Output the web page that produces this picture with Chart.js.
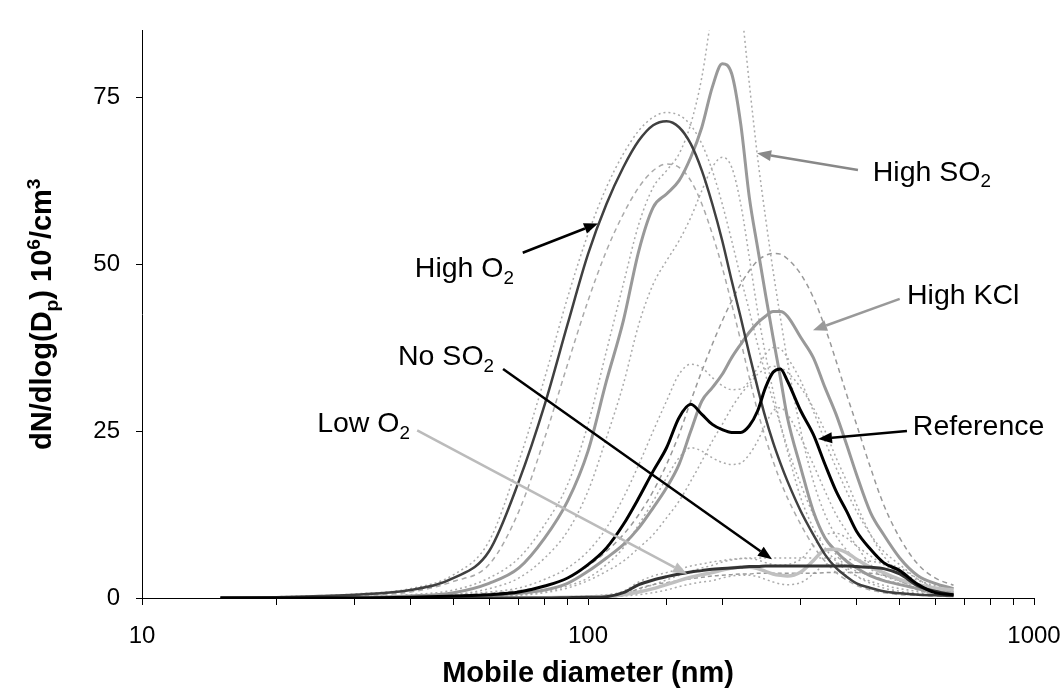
<!DOCTYPE html>
<html>
<head>
<meta charset="utf-8">
<script src="https://cdn.jsdelivr.net/npm/chart.js@4.4.1/dist/chart.umd.min.js"></script>
<style>
  html, body { margin: 0; padding: 0; background: #fff; }
</style>
</head>
<body>
<canvas id="chart" width="1064" height="697"></canvas>
<script>
// mobile diameter (nm)
const diam = [15, 20, 25, 30, 40, 50, 60, 70, 80, 90, 100, 110, 120, 130, 140, 150, 160, 170, 180, 190, 200,
  210, 220, 230, 240, 250, 260, 270, 280, 300, 320, 340, 360, 380, 400, 430, 460, 500, 550, 600, 660];

// mean size distributions, dN/dlog(Dp) 10^6/cm3
const highO2 = [0, 0.1, 0.3, 0.5, 1.2, 3.0, 7.0, 17.5, 29, 41, 51.5, 59, 64.5, 68.5, 70.8, 71.4, 70.5, 68, 64, 59, 53.5,
  47.5, 42, 36.5, 31.5, 27, 23.3, 20.2, 17.5, 13, 9.5, 6.5, 4.5, 3.2, 2.2, 1.5, 1.0, 0.7, 0.5, 0.4, 0.3];
const highSO2 = [0, 0, 0.05, 0.1, 0.3, 0.8, 2.2, 4.5, 9, 14.5, 22, 32.5, 41.5, 52, 58.5, 60.5, 62.5, 66, 70.5, 76.5, 80,
  78.5, 71, 60, 52.5, 45.5, 39, 33, 27, 19.5, 13, 9, 7, 5.5, 4.5, 3.3, 2.6, 2.0, 1.4, 1.0, 0.6];
const highKCl = [0, 0, 0, 0, 0.1, 0.2, 0.4, 0.7, 1.2, 2.2, 4.0, 6.0, 8.0, 10.5, 13.5, 16.5, 20, 25, 29.5, 31.5, 33.5,
  36, 38, 39.8, 41.2, 42.2, 42.9, 42.9, 42.2, 39, 36, 31.5, 27.5, 23, 18.5, 12.8, 9.5, 6, 3.3, 2.2, 1.4];
const reference = [0, 0, 0, 0, 0.1, 0.3, 0.5, 0.9, 1.8, 3.0, 5.0, 7.5, 11, 15, 19, 22.5, 27, 29, 27.5, 26, 25.2,
  24.8, 24.8, 25.8, 28, 31.5, 33.8, 34.3, 32.5, 28, 24.5, 20, 16, 13, 10, 7.3, 5.3, 4.1, 2.0, 0.8, 0.5];
const noSO2 = [0, 0, 0, 0, 0, 0, 0, 0, 0, 0.05, 0.1, 0.2, 0.8, 2.0, 2.7, 3.2, 3.6, 3.9, 4.1, 4.3, 4.4,
  4.5, 4.6, 4.7, 4.7, 4.8, 4.8, 4.8, 4.8, 4.8, 4.8, 4.8, 4.8, 4.8, 4.7, 4.6, 4.4, 3.6, 1.8, 1.0, 0.4];
const lowO2 = [0, 0, 0, 0, 0, 0, 0, 0, 0.05, 0.1, 0.15, 0.25, 0.5, 0.9, 1.4, 2.0, 2.6, 3.1, 3.5, 3.8, 4.2,
  4.5, 4.6, 4.6, 4.4, 4.0, 3.6, 3.4, 3.3, 3.9, 5.6, 7.2, 7.3, 6.8, 5.8, 4.6, 3.8, 2.8, 2.0, 1.5, 1.2];

// spread of the measurements (upper / lower)
const highO2Hi = [0.1, 0.2, 0.35, 0.6, 1.4, 3.5, 8.5, 20.5, 33, 45, 54.5, 61.5, 66.5, 70, 72, 72.7, 72.3, 70.8, 68, 64, 59,
  53.5, 48, 43, 38, 33.5, 29.5, 26, 22.5, 17, 12.5, 9, 6.5, 4.6, 3.3, 2.2, 1.5, 1.0, 0.7, 0.5, 0.4];
const highO2Lo = [0, 0.05, 0.2, 0.35, 0.9, 2.5, 5, 13, 24, 35, 44.5, 52, 57.5, 61.5, 64, 65, 64.5, 62.5, 59, 54.5, 49.5,
  44, 38.5, 33, 28, 24, 20.5, 17.5, 15, 11, 7.8, 5.5, 3.8, 2.7, 1.9, 1.2, 0.8, 0.5, 0.4, 0.3, 0.2];
const highSO2Hi = [0, 0, 0.1, 0.2, 0.5, 1.2, 3, 6, 11, 17, 26, 37, 47, 56, 61.5, 64, 66.5, 71, 78, 88, 96,
  96, 89, 77, 66, 57, 49, 42, 35.5, 25, 17.5, 12.5, 9.3, 7.2, 5.8, 4.3, 3.3, 2.5, 1.8, 1.3, 0.9];
const highSO2Lo = [0, 0, 0, 0.05, 0.2, 0.5, 1.4, 3, 6, 10, 16, 24, 32, 41, 47, 50.5, 53.5, 57, 61, 64.5, 66,
  64.5, 59, 51, 43, 36.5, 31, 26, 22, 15, 10.5, 7.5, 5.5, 4.2, 3.3, 2.5, 1.9, 1.4, 1.0, 0.7, 0.5];
const highKClHi = [0, 0, 0, 0.05, 0.2, 0.4, 0.7, 1.1, 1.8, 3.0, 4.8, 7, 9.5, 12.5, 16, 20, 24.5, 29.5, 34, 38, 41.5,
  44.5, 47, 49, 50.5, 51.3, 51.6, 51.5, 50.8, 48.5, 45, 40.5, 35.5, 30.5, 26, 19.5, 14, 9, 5, 3, 1.9];
const highKClLo = [0, 0, 0, 0, 0.05, 0.1, 0.2, 0.4, 0.8, 1.5, 2.6, 4, 5.5, 7.5, 9.5, 12, 14.5, 17.5, 20.5, 23.5, 26,
  28.5, 30.5, 32, 33.5, 34.3, 34.7, 34.5, 33.8, 31.5, 28.5, 25, 21, 17.5, 14, 9.5, 6.3, 3.8, 2.1, 1.4, 1.0];
const refHi = [0, 0, 0, 0.05, 0.2, 0.5, 0.9, 1.5, 2.8, 4.5, 7, 10.5, 15, 20, 25, 29.5, 33.5, 35, 34.5, 33, 31.8,
  31.2, 31.3, 32.5, 34.5, 36.5, 37.5, 37.3, 36, 32.5, 28, 23.5, 19.5, 16, 13, 9.5, 7, 5, 2.8, 1.5, 0.9];
const refLo = [0, 0, 0, 0, 0.05, 0.15, 0.3, 0.5, 1.0, 1.8, 3.0, 5, 7.5, 11, 14.5, 18, 21, 22.5, 22, 21, 20.3,
  20, 20.2, 21.5, 23.5, 26, 28, 28.5, 27.5, 24, 20, 16, 12.5, 10, 7.8, 5, 3.5, 2.6, 1.3, 0.6, 0.4];
const noSO2Hi = [0, 0, 0, 0, 0, 0, 0, 0, 0, 0.1, 0.2, 0.4, 1.0, 2.4, 3.3, 3.8, 4.3, 4.8, 5.1, 5.4, 5.6,
  5.8, 5.9, 6.0, 6.0, 6.0, 6.0, 6.0, 6.0, 6.0, 6.0, 6.0, 5.9, 5.8, 5.7, 5.5, 5.2, 4.5, 2.8, 1.6, 1.0];
const noSO2Lo = [0, 0, 0, 0, 0, 0, 0, 0, 0, 0, 0.05, 0.1, 0.4, 1.4, 2.0, 2.3, 2.6, 2.9, 3.1, 3.3, 3.4,
  3.5, 3.6, 3.6, 3.7, 3.7, 3.7, 3.7, 3.7, 3.7, 3.7, 3.8, 3.8, 3.8, 3.8, 3.7, 3.4, 2.6, 1.2, 0.6, 0.3];
const lowO2Hi = [0, 0, 0, 0, 0, 0, 0, 0, 0.1, 0.2, 0.3, 0.5, 0.8, 1.3, 2.0, 2.7, 3.4, 4.0, 4.5, 4.9, 5.4,
  5.7, 5.9, 5.9, 5.7, 5.3, 5.0, 4.9, 5.0, 5.8, 7.8, 9.5, 9.7, 9.0, 7.8, 6.3, 5.0, 3.9, 2.6, 1.9, 1.5];
const lowO2Lo = [0, 0, 0, 0, 0, 0, 0, 0, 0, 0.05, 0.1, 0.15, 0.3, 0.5, 0.8, 1.2, 1.7, 2.1, 2.4, 2.6, 3.0,
  3.3, 3.4, 3.4, 3.2, 2.8, 2.4, 2.1, 2.0, 2.3, 3.6, 5.0, 5.2, 4.8, 4.0, 3.4, 2.7, 2.2, 1.5, 1.1, 0.9];

const xTickLabels = [10, 100, 1000];
const yTickValues = [0, 25, 50, 75];

// callouts: text anchor and arrow tail/tip in data units (nm, 10^6/cm3)
const callouts = [
  { parts: [['High O', 0], ['2', 1]], at: [40.9, 48.0], from: [71.4, 51.7], to: [105.3, 56.1], color: '#000' },
  { parts: [['High SO', 0], ['2', 1]], at: [435, 62.5], from: [403, 64.1], to: [239.4, 66.6], color: '#888' },
  { parts: [['High KCl', 0]], at: [519, 44.0], from: [500, 44.8], to: [319.5, 40.1], color: '#999' },
  { parts: [['Reference', 0]], at: [535, 24.4], from: [519, 25.0], to: [327.9, 23.8], color: '#000' },
  { parts: [['No SO', 0], ['2', 1]], at: [37.5, 34.9], from: [64.5, 34.3], to: [258.5, 5.8], color: '#000' },
  { parts: [['Low O', 0], ['2', 1]], at: [24.7, 24.85], from: [41.4, 25.1], to: [166.7, 3.6], color: '#bbb' }
];

const FONT = '"Liberation Sans", Arial, Helvetica, sans-serif';

function series(values, color, width, dash, order) {
  return {
    data: diam.map((d, i) => ({ x: d, y: values[i] })),
    showLine: true,
    borderColor: color,
    borderWidth: width,
    borderDash: dash || [],
    pointRadius: 0,
    cubicInterpolationMode: 'monotone',
    fill: false,
    order: order
  };
}

const datasets = [
  series(reference, '#000000', 3, null, 0),
  series(noSO2, '#333333', 3, null, 0),
  series(highO2, '#404040', 2.5, null, 0),
  series(lowO2, '#c0c0c0', 3.5, null, 0),
  series(highKCl, '#999999', 3, null, 0),
  series(highSO2, '#999999', 3, null, 0),
  series(highO2Hi, '#aaaaaa', 1.5, [2, 3], 1),
  series(highO2Lo, '#aaaaaa', 1.5, [5, 4], 1),
  series(highSO2Hi, '#aaaaaa', 1.5, [2, 3], 1),
  series(highSO2Lo, '#aaaaaa', 1.5, [2, 3], 1),
  series(highKClHi, '#999999', 1.5, [5, 4], 1),
  series(highKClLo, '#aaaaaa', 1.5, [2, 3], 1),
  series(refHi, '#aaaaaa', 1.5, [2, 3], 1),
  series(refLo, '#aaaaaa', 1.5, [2, 3], 1),
  series(noSO2Hi, '#aaaaaa', 1.5, [2, 3], 1),
  series(noSO2Lo, '#999999', 1.5, [4, 3], 1),
  series(lowO2Hi, '#aaaaaa', 1.5, [2, 3], 1),
  series(lowO2Lo, '#aaaaaa', 1.5, [2, 3], 1)
];

// text with sub (1) and superscript (-1) parts, returns width
function richText(ctx, parts, x, y, size, weight, measureOnly) {
  let cx = x;
  for (const [t, s] of parts) {
    const fs = s ? size * 0.66 : size;
    ctx.font = weight + ' ' + fs + 'px ' + FONT;
    const dy = s === 1 ? size * 0.24 : (s === -1 ? -size * 0.38 : 0);
    if (!measureOnly) ctx.fillText(t, cx, y + dy);
    cx += ctx.measureText(t).width;
  }
  return cx - x;
}

function arrow(ctx, x1, y1, x2, y2, color) {
  const ang = Math.atan2(y2 - y1, x2 - x1);
  const len = 14, half = 5.5;
  const bx = x2 - len * Math.cos(ang), by = y2 - len * Math.sin(ang);
  ctx.strokeStyle = color;
  ctx.fillStyle = color;
  ctx.lineWidth = 2.5;
  ctx.beginPath();
  ctx.moveTo(x1, y1);
  ctx.lineTo(bx, by);
  ctx.stroke();
  ctx.beginPath();
  ctx.moveTo(x2, y2);
  ctx.lineTo(bx - half * Math.sin(ang), by + half * Math.cos(ang));
  ctx.lineTo(bx + half * Math.sin(ang), by - half * Math.cos(ang));
  ctx.closePath();
  ctx.fill();
}

const annotations = {
  id: 'annotations',
  afterDraw(chart) {
    const ctx = chart.ctx;
    const xs = chart.scales.x, ys = chart.scales.y;
    ctx.save();
    ctx.textBaseline = 'alphabetic';
    ctx.textAlign = 'left';

    callouts.forEach(c => {
      arrow(ctx, xs.getPixelForValue(c.from[0]), ys.getPixelForValue(c.from[1]),
        xs.getPixelForValue(c.to[0]), ys.getPixelForValue(c.to[1]), c.color);
      ctx.fillStyle = '#000';
      richText(ctx, c.parts, xs.getPixelForValue(c.at[0]), ys.getPixelForValue(c.at[1]), 28.5, 'normal');
    });

    // axis titles
    ctx.fillStyle = '#000';
    const xt = [['Mobile diameter (nm)', 0]];
    const xw = richText(ctx, xt, 0, 0, 29, 'bold', true);
    richText(ctx, xt, (chart.chartArea.left + chart.chartArea.right) / 2 - xw / 2, 682, 29, 'bold');

    const yt = [['dN/dlog(D', 0], ['p', 1], [') 10', 0], ['6', -1], ['/cm', 0], ['3', -1]];
    const yw = richText(ctx, yt, 0, 0, 29, 'bold', true);
    const cy = (chart.chartArea.top + chart.chartArea.bottom) / 2;
    ctx.translate(51, cy + yw / 2);
    ctx.rotate(-Math.PI / 2);
    richText(ctx, yt, 0, 0, 29, 'bold');
    ctx.restore();
  }
};

new Chart(document.getElementById('chart'), {
  type: 'scatter',
  data: { datasets: datasets },
  options: {
    responsive: false,
    animation: false,
    devicePixelRatio: 1,
    layout: { padding: { top: 14, right: 30, left: 0, bottom: 0 } },
    plugins: { legend: { display: false }, tooltip: { enabled: false } },
    scales: {
      x: {
        type: 'logarithmic',
        min: 10,
        max: 1000,
        grid: { drawOnChartArea: false, drawTicks: true, tickLength: 7, color: '#000' },
        border: { color: '#000', width: 1 },
        ticks: {
          autoSkip: false,
          maxRotation: 0,
          padding: 17,
          color: '#000',
          font: { family: FONT, size: 24 },
          callback: v => xTickLabels.includes(v) ? String(v) : ''
        },
        afterFit: s => { s.height = 99; s.paddingLeft = 0; s.paddingRight = 0; }
      },
      y: {
        min: 0,
        max: 85,
        afterBuildTicks: s => { s.ticks = yTickValues.map(v => ({ value: v })); },
        grid: { drawOnChartArea: false, drawTicks: true, tickLength: 6, color: '#000' },
        border: { color: '#000', width: 1 },
        ticks: { padding: 16, color: '#000', font: { family: FONT, size: 24 } },
        afterFit: s => { s.width = 142; }
      }
    }
  },
  plugins: [annotations]
});
</script>
</body>
</html>
